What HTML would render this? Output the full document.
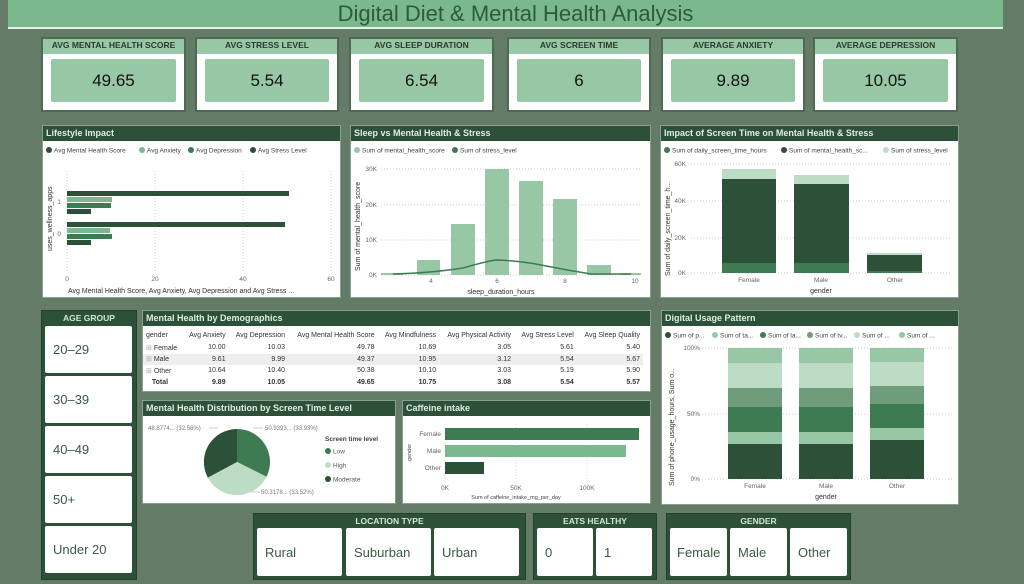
<!DOCTYPE html>
<html><head><meta charset="utf-8"><style>
*{margin:0;padding:0;box-sizing:border-box}
body{width:1024px;height:584px;background:#637b67;position:relative;overflow:hidden;font-family:"Liberation Sans",sans-serif}
.a{position:absolute}
.title{left:8px;top:0;width:995px;height:29px;background:#7ab98e;border-bottom:2px solid #e8f0e8;color:#2e5a3c;font-size:22px;text-align:center;line-height:28px;padding-left:20px}
.kpi{top:37px;height:75px;background:#fff;border:2px solid #4f6a53}
.kpi .h{height:15px;background:#98c7a6;font-size:8.5px;font-weight:bold;color:#2b3a2e;text-align:center;line-height:13px}
.kpi .v{position:absolute;left:8px;right:8px;top:20px;height:43px;background:#98c7a6;border-radius:2px;font-size:17px;color:#111;text-align:center;line-height:43px}
.p{background:#fff;border:1px solid #8aa08e}
.p .h{height:15px;background:#2d5038;color:#dfeee2;font-size:9px;font-weight:bold;line-height:15px;padding-left:3px}
svg text{font-family:"Liberation Sans",sans-serif}
.sl{background:#2d5038;border:1px solid #23402c}
.sl .h{color:#cfe6d5;font-size:8.5px;font-weight:bold;text-align:center;height:14px;line-height:14px}
.btn{position:absolute;background:#fff;border-radius:2px;color:#3a5a44;font-size:13px;padding-left:8px}
table{border-collapse:collapse;font-size:7px;color:#333;width:100%}
td{padding:0 3px;height:11.5px;text-align:right;white-space:nowrap}
td:first-child{text-align:left}
</style></head><body>
<div class="a title">Digital Diet &amp; Mental Health Analysis</div>

<div class="a kpi" style="left:41px;width:145px"><div class="h">AVG MENTAL HEALTH SCORE</div><div class="v">49.65</div></div>
<div class="a kpi" style="left:195px;width:144px"><div class="h">AVG STRESS LEVEL</div><div class="v">5.54</div></div>
<div class="a kpi" style="left:349px;width:145px"><div class="h">AVG SLEEP DURATION</div><div class="v">6.54</div></div>
<div class="a kpi" style="left:507px;width:144px"><div class="h">AVG SCREEN TIME</div><div class="v">6</div></div>
<div class="a kpi" style="left:661px;width:144px"><div class="h">AVERAGE ANXIETY</div><div class="v">9.89</div></div>
<div class="a kpi" style="left:813px;width:145px"><div class="h">AVERAGE DEPRESSION</div><div class="v">10.05</div></div>

<!-- Lifestyle -->
<div class="a p" style="left:42px;top:125px;width:299px;height:173px"><div class="h">Lifestyle Impact</div>
<svg width="297" height="157" style="position:absolute;left:0;top:15px">
<g font-size="6.5" fill="#444"><circle cx="6" cy="9" r="3" fill="#2d5038"/><text x="11" y="11.5">Avg Mental Health Score</text>
<circle cx="99" cy="9" r="3" fill="#7ab98e"/><text x="104" y="11.5">Avg Anxiety</text>
<circle cx="148" cy="9" r="3" fill="#3e7a52"/><text x="153" y="11.5">Avg Depression</text>
<circle cx="210" cy="9" r="3" fill="#2d5038"/><text x="215" y="11.5">Avg Stress Level</text></g>
<g stroke="#ccc" stroke-dasharray="1,2"><line x1="24" y1="30" x2="24" y2="130"/><line x1="112" y1="30" x2="112" y2="130"/><line x1="200" y1="30" x2="200" y2="130"/><line x1="288" y1="30" x2="288" y2="130"/></g>
<rect x="24" y="50" width="222" height="5" fill="#2d5038"/><rect x="24" y="56" width="45" height="5" fill="#7ab98e"/><rect x="24" y="62" width="44" height="5" fill="#3e7a52"/><rect x="24" y="68" width="24" height="5" fill="#2d5038"/>
<rect x="24" y="81" width="218" height="5" fill="#2d5038"/><rect x="24" y="87" width="43" height="5" fill="#7ab98e"/><rect x="24" y="93" width="45" height="5" fill="#3e7a52"/><rect x="24" y="99" width="24" height="5" fill="#2d5038"/>
<g font-size="6.5" fill="#666"><text x="18" y="63" text-anchor="end">1</text><text x="18" y="95" text-anchor="end">0</text>
<text x="24" y="140" text-anchor="middle">0</text><text x="112" y="140" text-anchor="middle">20</text><text x="200" y="140" text-anchor="middle">40</text><text x="288" y="140" text-anchor="middle">60</text></g>
<text x="25" y="152" font-size="7" fill="#333">Avg Mental Health Score, Avg Anxiety, Avg Depression and Avg Stress ...</text>
<text transform="translate(9,110) rotate(-90)" font-size="7" fill="#333">uses_wellness_apps</text>
</svg></div>

<!-- Sleep -->
<div class="a p" style="left:350px;top:125px;width:301px;height:173px"><div class="h">Sleep vs Mental Health &amp; Stress</div>
<svg width="299" height="157" style="position:absolute;left:0;top:15px">
<g font-size="6.5" fill="#444"><circle cx="6" cy="9" r="3" fill="#98c7a6"/><text x="11" y="11.5">Sum of mental_health_score</text>
<circle cx="104" cy="9" r="3" fill="#3e7a52"/><text x="109" y="11.5">Sum of stress_level</text></g>
<g stroke="#ccc" stroke-dasharray="1,2"><line x1="30" y1="28" x2="290" y2="28"/><line x1="30" y1="64" x2="290" y2="64"/><line x1="30" y1="99" x2="290" y2="99"/><line x1="30" y1="134" x2="290" y2="134"/></g>
<g fill="#98c7a6"><rect x="30" y="132" width="22" height="2"/><rect x="66" y="119" width="23" height="15"/><rect x="100" y="83" width="24" height="51"/><rect x="134" y="28" width="24" height="106"/><rect x="168" y="40" width="24" height="94"/><rect x="202" y="58" width="24" height="76"/><rect x="236" y="124" width="24" height="10"/><rect x="270" y="132" width="20" height="2"/></g>
<path d="M42 133 Q80 132 112 127 Q140 119 146 119 Q170 120 190 124 Q215 129 240 133 L280 133" fill="none" stroke="#3e7a52" stroke-width="1.5"/>
<g font-size="6.5" fill="#666"><text x="26" y="30" text-anchor="end">30K</text><text x="26" y="66" text-anchor="end">20K</text><text x="26" y="101" text-anchor="end">10K</text><text x="26" y="136" text-anchor="end">0K</text>
<text x="80" y="142" text-anchor="middle">4</text><text x="146" y="142" text-anchor="middle">6</text><text x="214" y="142" text-anchor="middle">8</text><text x="284" y="142" text-anchor="middle">10</text></g>
<text x="150" y="153" font-size="7" fill="#333" text-anchor="middle">sleep_duration_hours</text>
<text transform="translate(9,130) rotate(-90)" font-size="7" fill="#333">Sum of mental_health_score</text>
</svg></div>

<!-- Screen time -->
<div class="a p" style="left:660px;top:125px;width:299px;height:173px"><div class="h">Impact of Screen Time on Mental Health &amp; Stress</div>
<svg width="297" height="157" style="position:absolute;left:0;top:15px">
<g font-size="6.5" fill="#444"><circle cx="6" cy="9" r="3" fill="#3e7a52"/><text x="11" y="11.5">Sum of daily_screen_time_hours</text>
<circle cx="123" cy="9" r="3" fill="#2d5038"/><text x="128" y="11.5">Sum of mental_health_sc...</text>
<circle cx="225" cy="9" r="3" fill="#bcdcc6"/><text x="230" y="11.5">Sum of stress_level</text></g>
<g stroke="#ccc" stroke-dasharray="1,2"><line x1="30" y1="23" x2="290" y2="23"/><line x1="30" y1="60" x2="290" y2="60"/><line x1="30" y1="97" x2="290" y2="97"/><line x1="30" y1="132" x2="290" y2="132"/></g>
<rect x="61" y="28" width="54" height="10" fill="#bcdcc6"/><rect x="61" y="38" width="54" height="84" fill="#2d5038"/><rect x="61" y="122" width="54" height="10" fill="#3e7a52"/>
<rect x="133" y="34" width="55" height="9" fill="#bcdcc6"/><rect x="133" y="43" width="55" height="79" fill="#2d5038"/><rect x="133" y="122" width="55" height="10" fill="#3e7a52"/>
<rect x="206" y="112" width="55" height="2" fill="#bcdcc6"/><rect x="206" y="114" width="55" height="16" fill="#2d5038"/><rect x="206" y="130" width="55" height="2" fill="#3e7a52"/>
<g font-size="6.5" fill="#666"><text x="25" y="25" text-anchor="end">60K</text><text x="25" y="62" text-anchor="end">40K</text><text x="25" y="99" text-anchor="end">20K</text><text x="25" y="134" text-anchor="end">0K</text>
<text x="88" y="141" text-anchor="middle">Female</text><text x="160" y="141" text-anchor="middle">Male</text><text x="234" y="141" text-anchor="middle">Other</text></g>
<text x="160" y="152" font-size="7" fill="#333" text-anchor="middle">gender</text>
<text transform="translate(9,135) rotate(-90)" font-size="7" fill="#333">Sum of daily_screen_time_h...</text>
</svg></div>

<!-- Age group -->
<div class="a sl" style="left:41px;top:310px;width:96px;height:270px"><div class="h">AGE GROUP</div>
<div class="btn" style="left:3px;top:15px;width:87px;height:47px;line-height:47px">20–29</div>
<div class="btn" style="left:3px;top:65px;width:87px;height:47px;line-height:47px">30–39</div>
<div class="btn" style="left:3px;top:115px;width:87px;height:47px;line-height:47px">40–49</div>
<div class="btn" style="left:3px;top:165px;width:87px;height:47px;line-height:47px">50+</div>
<div class="btn" style="left:3px;top:215px;width:87px;height:47px;line-height:47px">Under 20</div>
</div>

<!-- Table -->
<div class="a p" style="left:142px;top:310px;width:509px;height:82px"><div class="h">Mental Health by Demographics</div>
<table style="margin-top:2px;width:500px">
<tr style="height:14px"><td>gender</td><td>Avg Anxiety</td><td>Avg Depression</td><td>Avg Mental Health Score</td><td>Avg Mindfulness</td><td>Avg Physical Activity</td><td>Avg Stress Level</td><td>Avg Sleep Quality</td></tr>
<tr><td><span style="color:#aaa">⊞</span> Female</td><td>10.00</td><td>10.03</td><td>49.78</td><td>10.69</td><td>3.05</td><td>5.61</td><td>5.40</td></tr>
<tr style="background:#eee"><td><span style="color:#aaa">⊞</span> Male</td><td>9.61</td><td>9.99</td><td>49.37</td><td>10.95</td><td>3.12</td><td>5.54</td><td>5.67</td></tr>
<tr><td><span style="color:#aaa">⊞</span> Other</td><td>10.64</td><td>10.40</td><td>50.38</td><td>10.10</td><td>3.03</td><td>5.19</td><td>5.90</td></tr>
<tr style="font-weight:bold"><td>&nbsp;&nbsp;&nbsp;Total</td><td>9.89</td><td>10.05</td><td>49.65</td><td>10.75</td><td>3.08</td><td>5.54</td><td>5.57</td></tr>
</table></div>

<!-- Pie -->
<div class="a p" style="left:142px;top:400px;width:254px;height:104px"><div class="h">Mental Health Distribution by Screen Time Level</div>
<svg width="252" height="88" style="position:absolute;left:0;top:15px">
<path d="M94 46 L94 13 A33 33 0 0 1 123.5 60.8 Z" fill="#3e7a52"/>
<path d="M94 46 L123.5 60.8 A33 33 0 0 1 64.8 61.6 Z" fill="#bcdcc6"/>
<path d="M94 46 L64.8 61.6 A33 33 0 0 1 94 13 Z" fill="#2d5038"/>
<g font-size="6" fill="#777"><text x="5" y="14">48.8774... (32.56%)</text><text x="122" y="14">50.9393... (33.93%)</text><text x="118" y="78">50.3178... (33.52%)</text></g>
<g stroke="#aaa" fill="none" stroke-width=".6"><path d="M66 12 L75 12"/><path d="M110 12 L120 12"/><path d="M108 76 L116 76"/></g>
<text x="182" y="25" font-size="6.5" font-weight="bold" fill="#444">Screen time level</text>
<g font-size="6.5" fill="#555"><circle cx="185" cy="35" r="3" fill="#3e7a52"/><text x="190" y="37.5">Low</text>
<circle cx="185" cy="49" r="3" fill="#bcdcc6"/><text x="190" y="51.5">High</text>
<circle cx="185" cy="63" r="3" fill="#2d5038"/><text x="190" y="65.5">Moderate</text></g>
</svg></div>

<!-- Caffeine -->
<div class="a p" style="left:402px;top:400px;width:249px;height:104px"><div class="h">Caffeine intake</div>
<svg width="247" height="88" style="position:absolute;left:0;top:15px">
<g stroke="#ddd" stroke-dasharray="1,2"><line x1="42" y1="8" x2="42" y2="66"/><line x1="113" y1="8" x2="113" y2="66"/><line x1="184" y1="8" x2="184" y2="66"/></g>
<rect x="42" y="12" width="194" height="12" fill="#3e7a52"/><rect x="42" y="29" width="181" height="12" fill="#7ab98e"/><rect x="42" y="46" width="39" height="12" fill="#2d5038"/>
<g font-size="6.5" fill="#666" text-anchor="end"><text x="38" y="20">Female</text><text x="38" y="37">Male</text><text x="38" y="54">Other</text></g>
<g font-size="6.5" fill="#666" text-anchor="middle"><text x="42" y="74">0K</text><text x="113" y="74">50K</text><text x="184" y="74">100K</text></g>
<text x="113" y="83" font-size="5.5" fill="#444" text-anchor="middle">Sum of caffeine_intake_mg_per_day</text>
<text transform="translate(8,45) rotate(-90)" font-size="5.5" fill="#444">gender</text>
</svg></div>

<!-- Digital usage -->
<div class="a p" style="left:661px;top:310px;width:298px;height:195px"><div class="h">Digital Usage Pattern</div>
<svg width="296" height="179" style="position:absolute;left:0;top:15px">
<g font-size="6.5" fill="#444"><circle cx="6" cy="9" r="3" fill="#2d5038"/><text x="11" y="11.5">Sum of p...</text>
<circle cx="53" cy="9" r="3" fill="#98c7a6"/><text x="58" y="11.5">Sum of ta...</text>
<circle cx="101" cy="9" r="3" fill="#3e7a52"/><text x="106" y="11.5">Sum of la...</text>
<circle cx="148" cy="9" r="3" fill="#6f9c7b"/><text x="153" y="11.5">Sum of tv...</text>
<circle cx="195" cy="9" r="3" fill="#bcdcc6"/><text x="200" y="11.5">Sum of ...</text>
<circle cx="240" cy="9" r="3" fill="#98c7a6"/><text x="245" y="11.5">Sum of ...</text></g>
<g stroke="#ccc" stroke-dasharray="1,2"><line x1="40" y1="22" x2="290" y2="22"/><line x1="40" y1="88" x2="290" y2="88"/><line x1="40" y1="153" x2="290" y2="153"/></g>
<g id="b"><rect x="66" y="22" width="54" height="15" fill="#98c7a6"/><rect x="66" y="37" width="54" height="25" fill="#bcdcc6"/><rect x="66" y="62" width="54" height="19" fill="#6f9c7b"/><rect x="66" y="81" width="54" height="25" fill="#3e7a52"/><rect x="66" y="106" width="54" height="12" fill="#98c7a6"/><rect x="66" y="118" width="54" height="35" fill="#2d5038"/></g>
<g><rect x="137" y="22" width="54" height="15" fill="#98c7a6"/><rect x="137" y="37" width="54" height="25" fill="#bcdcc6"/><rect x="137" y="62" width="54" height="19" fill="#6f9c7b"/><rect x="137" y="81" width="54" height="25" fill="#3e7a52"/><rect x="137" y="106" width="54" height="12" fill="#98c7a6"/><rect x="137" y="118" width="54" height="35" fill="#2d5038"/></g>
<g><rect x="208" y="22" width="54" height="14" fill="#98c7a6"/><rect x="208" y="36" width="54" height="24" fill="#bcdcc6"/><rect x="208" y="60" width="54" height="18" fill="#6f9c7b"/><rect x="208" y="78" width="54" height="24" fill="#3e7a52"/><rect x="208" y="102" width="54" height="12" fill="#98c7a6"/><rect x="208" y="114" width="54" height="39" fill="#2d5038"/></g>
<g font-size="6.5" fill="#666"><text x="38" y="24" text-anchor="end">100%</text><text x="38" y="90" text-anchor="end">50%</text><text x="38" y="155" text-anchor="end">0%</text>
<text x="93" y="162" text-anchor="middle">Female</text><text x="164" y="162" text-anchor="middle">Male</text><text x="235" y="162" text-anchor="middle">Other</text></g>
<text x="164" y="173" font-size="7" fill="#333" text-anchor="middle">gender</text>
<text transform="translate(12,160) rotate(-90)" font-size="7" fill="#333">Sum of phone_usage_hours, Sum o...</text>
</svg></div>

<!-- Slicers bottom -->
<div class="a sl" style="left:253px;top:513px;width:273px;height:67px"><div class="h">LOCATION TYPE</div>
<div class="btn" style="left:3px;top:14px;width:85px;height:48px;line-height:50px">Rural</div>
<div class="btn" style="left:92px;top:14px;width:85px;height:48px;line-height:50px">Suburban</div>
<div class="btn" style="left:180px;top:14px;width:85px;height:48px;line-height:50px">Urban</div></div>
<div class="a sl" style="left:533px;top:513px;width:124px;height:67px"><div class="h">EATS HEALTHY</div>
<div class="btn" style="left:3px;top:14px;width:56px;height:48px;line-height:50px">0</div>
<div class="btn" style="left:62px;top:14px;width:56px;height:48px;line-height:50px">1</div></div>
<div class="a sl" style="left:666px;top:513px;width:185px;height:67px"><div class="h">GENDER</div>
<div class="btn" style="left:3px;top:14px;width:57px;height:48px;line-height:50px;padding-left:7px">Female</div>
<div class="btn" style="left:63px;top:14px;width:57px;height:48px;line-height:50px">Male</div>
<div class="btn" style="left:123px;top:14px;width:57px;height:48px;line-height:50px">Other</div></div>
</body></html>
